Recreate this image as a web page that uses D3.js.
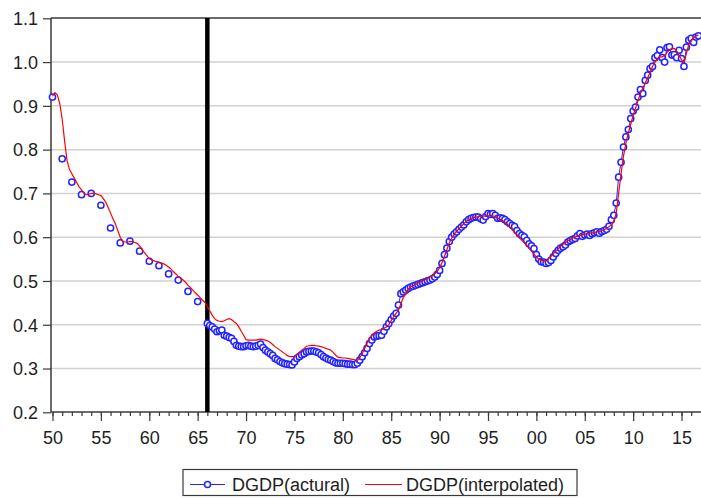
<!DOCTYPE html>
<html lang="en">
<head>
  <meta charset="UTF-8" />
  <title>DGDP actual vs interpolated</title>
  <style>
    *{margin:0;padding:0}
    body{background:#fff;overflow:hidden}
    svg text{font-family:"Liberation Sans",Arial,sans-serif;font-size:18px;fill:#1e1e1e}
  </style>
</head>
<body>
  <div id="chart"></div>
  <script src="https://d3js.org/d3.v7.min.js"></script>
  <script>
    // annual observations 1950-1965
    const annualYears = d3.range(1950, 1966);
    const actualAnnual = [0.920,0.779,0.726,0.697,0.700,0.673,0.621,0.587,0.591,0.568,0.545,0.535,0.516,0.502,0.476,0.453];

    // quarterly observations 1966Q1-2016Q4
    const quarterStart = 1966;
    const actualQuarterly = [
      0.403,0.398,0.395,0.390, 0.384,0.386,0.388,0.376, 0.374,0.371,0.369,0.362, 0.353,0.351,0.350,0.350,
      0.352,0.353,0.351,0.350, 0.351,0.353,0.356,0.348, 0.342,0.338,0.334,0.330, 0.323,0.320,0.316,0.313,
      0.311,0.310,0.309,0.308, 0.315,0.323,0.327,0.331, 0.334,0.338,0.339,0.340, 0.340,0.338,0.336,0.332,
      0.327,0.324,0.321,0.319, 0.316,0.313,0.312,0.312, 0.312,0.311,0.310,0.310, 0.309,0.309,0.312,0.319,
      0.327,0.336,0.346,0.357, 0.365,0.372,0.374,0.375, 0.376,0.385,0.395,0.403, 0.412,0.420,0.426,0.445,
      0.471,0.475,0.479,0.483, 0.486,0.488,0.490,0.492, 0.494,0.496,0.498,0.500, 0.502,0.505,0.509,0.515,
      0.524,0.540,0.560,0.575, 0.590,0.600,0.607,0.612, 0.618,0.623,0.628,0.635, 0.640,0.643,0.645,0.646,
      0.646,0.642,0.639,0.647, 0.654,0.652,0.654,0.650, 0.643,0.644,0.643,0.640, 0.635,0.631,0.627,0.624,
      0.615,0.608,0.604,0.601, 0.593,0.585,0.580,0.574, 0.560,0.550,0.544,0.543, 0.540,0.542,0.547,0.555,
      0.563,0.570,0.575,0.578, 0.582,0.589,0.592,0.595, 0.597,0.603,0.608,0.602, 0.605,0.607,0.604,0.608,
      0.610,0.612,0.609,0.613, 0.615,0.618,0.625,0.640, 0.650,0.678,0.737,0.771, 0.806,0.829,0.846,0.871,
      0.888,0.897,0.920,0.937, 0.928,0.958,0.970,0.985, 0.990,1.010,1.015,1.028, 1.010,1.000,1.033,1.035,
      1.016,1.017,1.010,1.027, 1.008,0.990,1.034,1.050, 1.054,1.045,1.057,1.060
    ];

    // interpolated quarterly series 1950Q1-2016Q4
    const interpStart = 1950;
    const interpolated = [
      0.922,0.930,0.925,0.905, 0.870,0.820,0.775,0.755, 0.745,0.735,0.725,0.715, 0.708,0.700,0.697,0.698,
      0.700,0.700,0.699,0.697, 0.695,0.688,0.680,0.668, 0.655,0.642,0.630,0.615, 0.600,0.590,0.589,0.589,
      0.590,0.590,0.588,0.586, 0.580,0.572,0.565,0.558, 0.551,0.548,0.546,0.544, 0.543,0.541,0.539,0.536,
      0.532,0.527,0.521,0.516, 0.510,0.506,0.502,0.497, 0.490,0.485,0.479,0.473, 0.468,0.462,0.456,0.451,
      0.441,0.432,0.422,0.414, 0.410,0.408,0.407,0.409, 0.412,0.414,0.412,0.407, 0.403,0.395,0.385,0.376,
      0.366,0.365,0.365,0.365, 0.365,0.366,0.367,0.366, 0.365,0.363,0.360,0.355, 0.350,0.346,0.342,0.338,
      0.334,0.330,0.327,0.327, 0.328,0.332,0.337,0.342, 0.346,0.351,0.352,0.353, 0.353,0.352,0.351,0.350,
      0.348,0.346,0.344,0.342, 0.337,0.331,0.326,0.325, 0.324,0.324,0.323,0.322, 0.321,0.320,0.318,0.325,
      0.333,0.346,0.358,0.368, 0.376,0.381,0.385,0.388, 0.389,0.392,0.395,0.400, 0.410,0.418,0.426,0.433,
      0.448,0.462,0.472,0.480, 0.486,0.489,0.492,0.495, 0.498,0.500,0.503,0.506, 0.509,0.512,0.516,0.522,
      0.530,0.542,0.556,0.572, 0.587,0.598,0.606,0.613, 0.619,0.625,0.631,0.636, 0.640,0.643,0.645,0.646,
      0.647,0.648,0.648,0.648, 0.649,0.650,0.649,0.647, 0.644,0.641,0.638,0.634, 0.629,0.623,0.617,0.611,
      0.605,0.599,0.593,0.587, 0.581,0.575,0.568,0.561, 0.555,0.550,0.547,0.546, 0.547,0.551,0.556,0.562,
      0.568,0.574,0.579,0.584, 0.588,0.592,0.595,0.598, 0.600,0.602,0.604,0.606, 0.607,0.608,0.609,0.610,
      0.611,0.612,0.613,0.615, 0.617,0.620,0.624,0.628, 0.635,0.655,0.700,0.745, 0.785,0.815,0.838,0.858,
      0.878,0.895,0.912,0.928, 0.940,0.952,0.964,0.976, 0.990,1.000,1.008,1.012, 1.012,1.015,1.022,1.028,
      1.030,1.031,1.025,1.015, 1.005,0.998,1.020,1.040, 1.050,1.055,1.060,1.062
    ];

    const breakYear = 1966;           // vertical marker
    const yTicks = [0.2,0.3,0.4,0.5,0.6,0.7,0.8,0.9,1.0,1.1];
    const xLabelYears = d3.range(1950, 2016, 5);
    const seriesNames = ['DGDP(actural)', 'DGDP(interpolated)'];

    const colors = { actual:'#2323ff', interp:'#ff0000', grid:'#d2d2d2', axis:'#3a3a3a' };

    const width = 701, height = 498;
    const plotLeft = 51, plotTop = 18, plotBottom = 412;

    const x = d3.scaleLinear().domain([1950, 2017]).range([52.5, 700.9]);
    const y = d3.scaleLinear().domain([0.2, 1.1]).range([412.3, 18.3]);

    const svg = d3.select('#chart').append('svg')
      .attr('width', width).attr('height', height);

    svg.append('rect').attr('width', width).attr('height', height).attr('fill', '#fff');

    // grid
    svg.append('g').selectAll('line')
      .data(yTicks.filter(v => v > 0.25 && v < 1.05))
      .join('line')
      .attr('x1', plotLeft).attr('x2', width)
      .attr('y1', d => y(d)).attr('y2', d => y(d))
      .attr('stroke', colors.grid).attr('stroke-width', 1.5);

    // y axis
    const yAxis = d3.axisLeft(y).tickValues(yTicks).tickFormat(d3.format('.1f'))
      .tickSize(8).tickPadding(5);
    const gy = svg.append('g').attr('transform', `translate(${plotLeft},0)`).call(yAxis);
    gy.select('.domain').remove();
    gy.selectAll('.tick line').attr('stroke', colors.axis).attr('stroke-width', 1.2);
    gy.selectAll('text').attr('font-family', null).attr('font-size', null).attr('dy', '0.35em');

    // x axis: minor yearly ticks, longer every 5 years
    const gxMinor = d3.axisBottom(x).tickValues(d3.range(1950, 2017)).tickSize(4).tickFormat('');
    svg.append('g').attr('transform', `translate(0,${plotBottom})`).call(gxMinor)
      .call(g => g.select('.domain').remove())
      .selectAll('.tick line').attr('stroke', colors.axis).attr('stroke-width', 1.2);

    const gxMajor = d3.axisBottom(x).tickValues(xLabelYears).tickSize(9).tickPadding(10)
      .tickFormat(d => String(d % 100).padStart(2, '0'));
    const gx = svg.append('g').attr('transform', `translate(0,${plotBottom})`).call(gxMajor);
    gx.select('.domain').remove();
    gx.selectAll('.tick line').attr('stroke', colors.axis).attr('stroke-width', 1.2);
    gx.selectAll('text').attr('font-family', null).attr('font-size', null);

    // frame lines
    svg.append('line').attr('x1', plotLeft).attr('x2', width).attr('y1', plotTop).attr('y2', plotTop)
      .attr('stroke', colors.axis).attr('stroke-width', 1.5);
    svg.append('line').attr('x1', plotLeft).attr('x2', width).attr('y1', plotBottom).attr('y2', plotBottom)
      .attr('stroke', colors.axis).attr('stroke-width', 1.5);
    svg.append('line').attr('x1', plotLeft).attr('x2', plotLeft).attr('y1', plotTop).attr('y2', plotBottom)
      .attr('stroke', colors.axis).attr('stroke-width', 1.5);

    // vertical break marker
    svg.append('line').attr('x1', x(breakYear)).attr('x2', x(breakYear))
      .attr('y1', plotTop).attr('y2', plotBottom)
      .attr('stroke', '#000').attr('stroke-width', 4.5);

    // actual series
    const annualPts = annualYears.map((yr, i) => ({ t: yr, v: actualAnnual[i] }));
    const quarterPts = actualQuarterly.map((v, i) => ({ t: quarterStart + i / 4, v }));
    const interpPts = interpolated.map((v, i) => ({ t: interpStart + i / 4, v }));

    const line = d3.line().x(d => x(d.t)).y(d => y(d.v));

    svg.append('path').datum(quarterPts).attr('d', line)
      .attr('fill', 'none').attr('stroke', colors.actual).attr('stroke-width', 1);

    svg.append('g').selectAll('circle')
      .data(annualPts.concat(quarterPts))
      .join('circle')
      .attr('cx', d => x(d.t)).attr('cy', d => y(d.v)).attr('r', 3.1)
      .attr('fill', '#fff').attr('stroke', colors.actual).attr('stroke-width', 1.5);

    // interpolated series
    svg.append('path').datum(interpPts).attr('d', line)
      .attr('fill', 'none').attr('stroke', colors.interp).attr('stroke-width', 1.2);

    // legend
    const lg = svg.append('g');
    lg.append('rect').attr('x', 183).attr('y', 469.5).attr('width', 394).attr('height', 26)
      .attr('fill', '#fff').attr('stroke', colors.axis).attr('stroke-width', 1.2);
    lg.append('line').attr('x1', 190).attr('x2', 225).attr('y1', 484.5).attr('y2', 484.5)
      .attr('stroke', colors.actual).attr('stroke-width', 1.2);
    lg.append('circle').attr('cx', 207.5).attr('cy', 484.5).attr('r', 3)
      .attr('fill', '#fff').attr('stroke', colors.actual).attr('stroke-width', 1.5);
    lg.append('text').attr('x', 232).attr('y', 491).text(seriesNames[0]);
    lg.append('line').attr('x1', 365).attr('x2', 402).attr('y1', 484.5).attr('y2', 484.5)
      .attr('stroke', colors.interp).attr('stroke-width', 1.2);
    lg.append('text').attr('x', 406).attr('y', 491).text(seriesNames[1]);
  </script>
</body>
</html>
